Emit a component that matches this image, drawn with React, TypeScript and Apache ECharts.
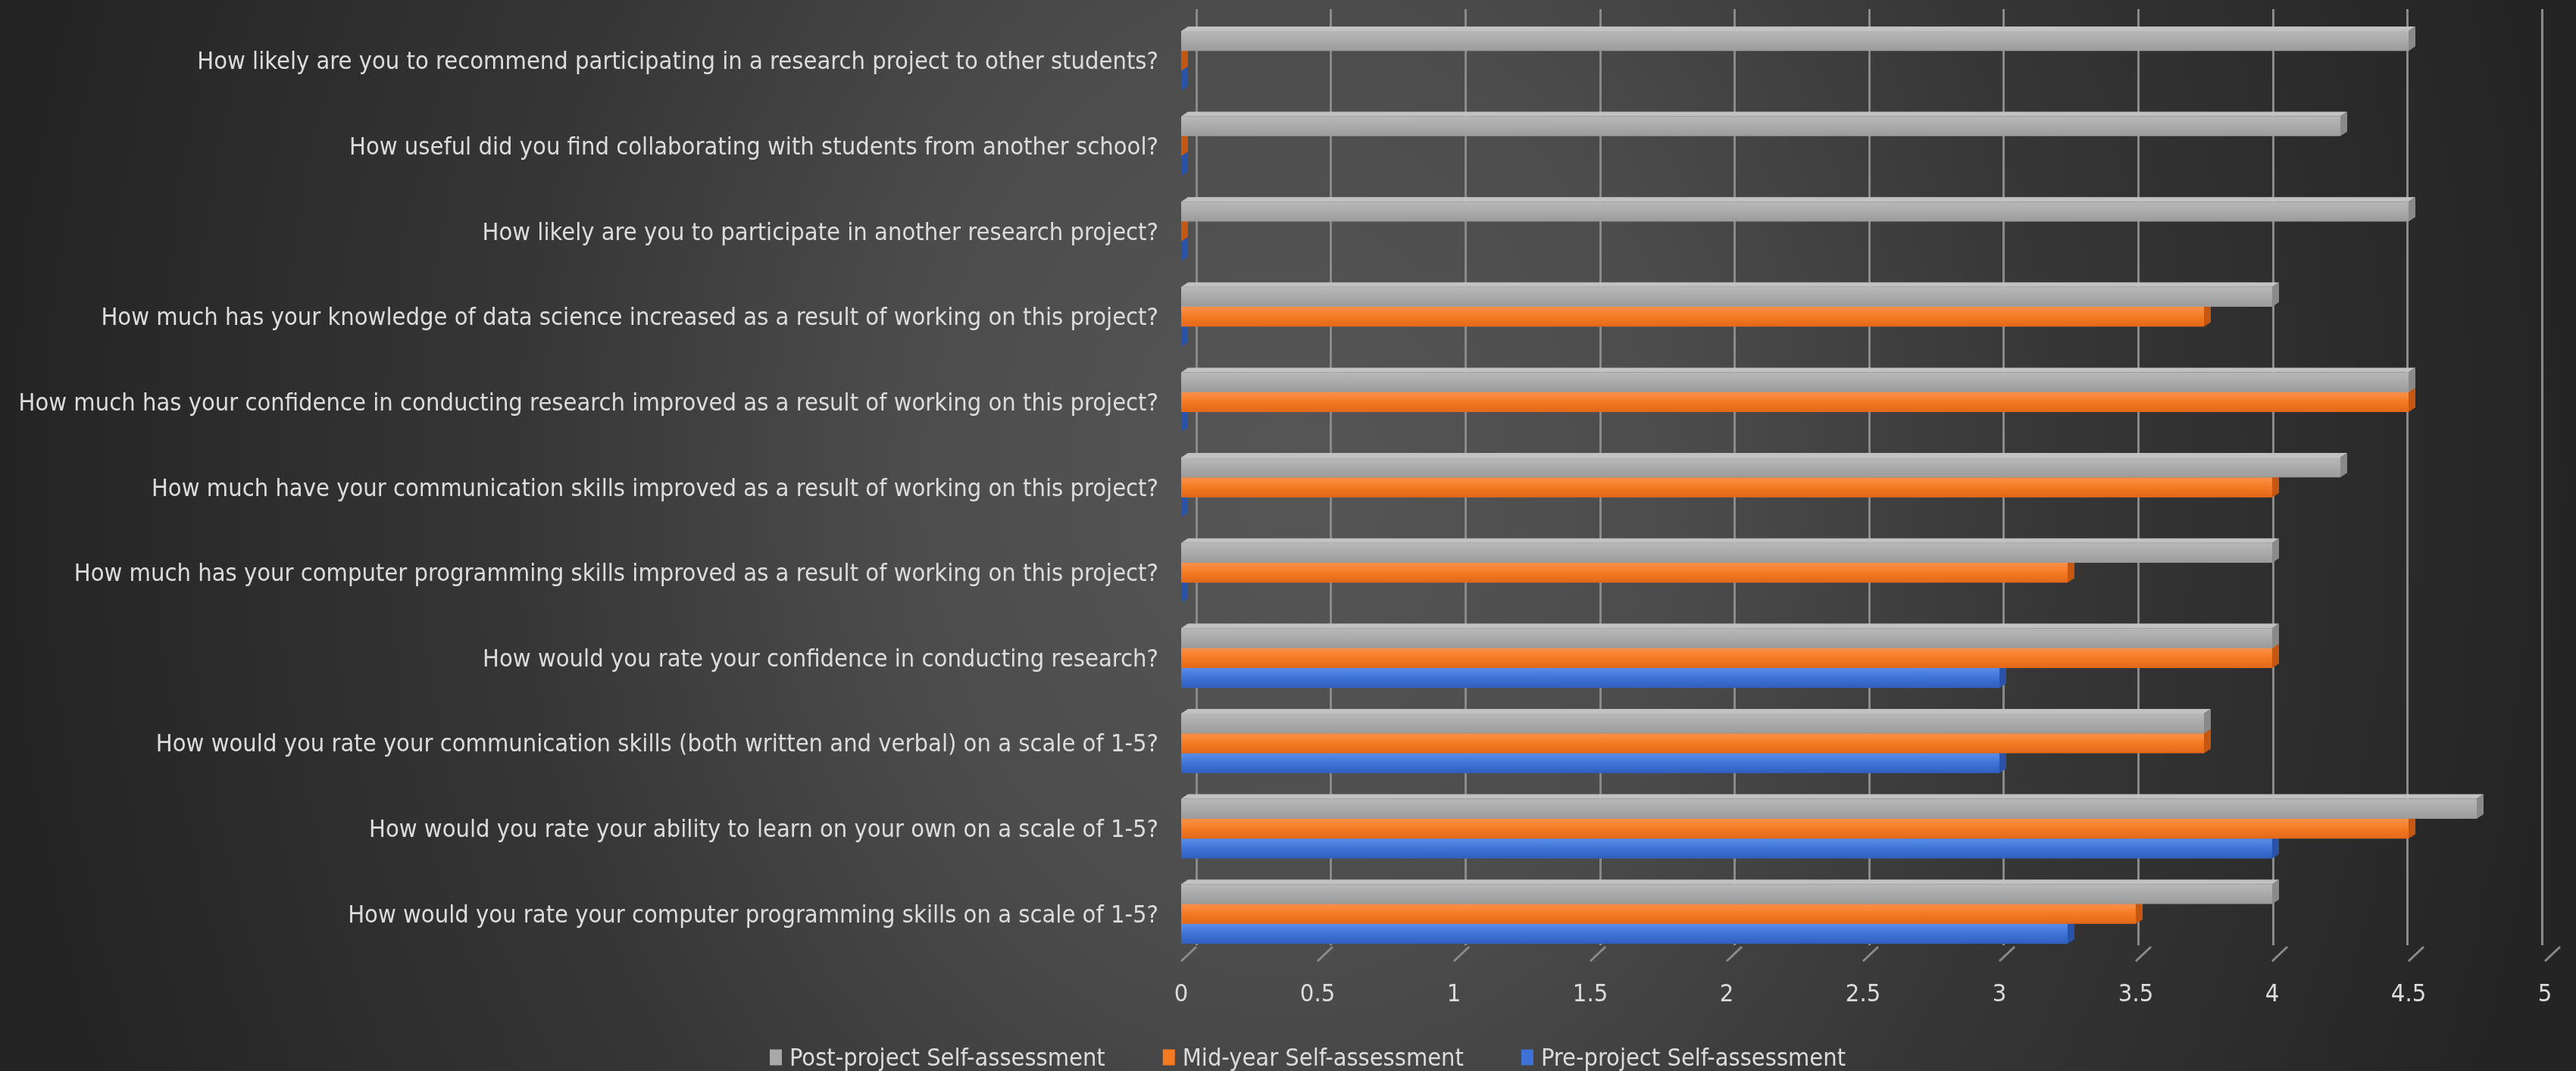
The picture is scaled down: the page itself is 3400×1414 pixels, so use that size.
import React, { useEffect, useRef } from "react";
import * as echarts from "echarts";

// Categories, bottom to top (ECharts category y axis runs upward)
const categories = [
  "How would you rate your computer programming skills on a scale of 1-5?",
  "How would you rate your ability to learn on your own on a scale of 1-5?",
  "How would you rate your communication skills (both written and verbal) on a scale of 1-5?",
  "How would you rate your confidence in conducting research?",
  "How much has your computer programming skills improved as a result of working on this project?",
  "How much have your communication skills improved as a result of working on this project?",
  "How much has your confidence in conducting research improved as a result of working on this project?",
  "How much has your knowledge of data science increased as a result of working on this project?",
  "How likely are you to participate in another research project?",
  "How useful did you find collaborating with students from another school?",
  "How likely are you to recommend participating in a research project to other students?",
];

const preProject = [3.25, 4, 3, 3, 0, 0, 0, 0, 0, 0, 0];
const midYear = [3.5, 4.5, 3.75, 4, 3.25, 4, 4.5, 3.75, 0, 0, 0];
const postProject = [4, 4.75, 3.75, 4, 4, 4.25, 4.5, 4, 4.5, 4.25, 4.5];

const seriesNames = [
  "Pre-project Self-assessment",
  "Mid-year Self-assessment",
  "Post-project Self-assessment",
];
const legendOrder = [
  "Post-project Self-assessment",
  "Mid-year Self-assessment",
  "Pre-project Self-assessment",
];
const xTicks = [0, 0.5, 1, 1.5, 2, 2.5, 3, 3.5, 4, 4.5, 5];

const palettes = [
  { legend: "#3f72d6", top: "#5a8eea", mid: "#3f72d6", bottom: "#2f5fbf", face: "#6f9ef2", side: "#2a53a8" },
  { legend: "#f47a22", top: "#fb914b", mid: "#f47a22", bottom: "#e2681a", face: "#ffa666", side: "#c45812" },
  { legend: "#a9a9a9", top: "#b8b8b8", mid: "#aaaaaa", bottom: "#9b9b9b", face: "#c2c2c2", side: "#8a8a8a" },
];

const DX = 9;
const DY = 6;
const FONT = "'Liberation Sans Narrow', 'DejaVu Sans Condensed', 'Open Sans', sans-serif";
const TEXT = "#dcdcdc";

function barRenderer(sIdx: number) {
  const p = palettes[sIdx];
  return (params: any, api: any) => {
    const v = api.value(0);
    const i = api.value(1);
    const base = api.coord([0, i]);
    const end = api.coord([v, i]);
    const band = api.size([0, 1])[1];
    const group = band * 0.7;
    const h = group / 3;
    const yTop = base[1] + group / 2 - (sIdx + 1) * h;
    const x0 = base[0];
    const x1 = end[0];
    return {
      type: "group",
      children: [
        {
          type: "polygon",
          shape: { points: [[x0, yTop], [x1, yTop], [x1 + DX, yTop - DY], [x0 + DX, yTop - DY]] },
          style: { fill: p.face },
        },
        {
          type: "rect",
          shape: { x: x0, y: yTop, width: x1 - x0, height: h },
          style: {
            fill: new echarts.graphic.LinearGradient(0, 0, 0, 1, [
              { offset: 0, color: p.top },
              { offset: 0.5, color: p.mid },
              { offset: 1, color: p.bottom },
            ]),
          },
        },
        {
          type: "polygon",
          shape: { points: [[x1, yTop], [x1 + DX, yTop - DY], [x1 + DX, yTop + h - DY], [x1, yTop + h]] },
          style: { fill: p.side },
        },
      ],
    };
  };
}

export default function App() {
  const ref = useRef<HTMLDivElement>(null);
  useEffect(() => {
    document.body.style.margin = "0";
    const chart = echarts.init(ref.current!, null, { renderer: "svg" });
    const seriesData = [preProject, midYear, postProject];
    const barSeries = seriesData.map((vals, s) => ({
      type: "custom",
      name: seriesNames[s],
      xAxisIndex: 1,
      yAxisIndex: 1,
      itemStyle: { color: palettes[s].legend },
      encode: { x: 0, y: 1 },
      data: vals.map((v, i) => [v, i]),
      renderItem: barRenderer(s),
      z: 3 + s,
    }));
    chart.setOption({
      animation: false,
      backgroundColor: "transparent",
      textStyle: { fontFamily: FONT },
      grid: [
        { left: 1579, width: 1776, top: 12, height: 1236, outerBoundsMode: "none", containLabel: false },
        { left: 1559, width: 1800, top: 24, height: 1239, outerBoundsMode: "none", containLabel: false },
      ],
      xAxis: [
        {
          gridIndex: 0,
          type: "value",
          min: 0,
          max: 5,
          interval: 0.5,
          axisLine: { show: false },
          axisTick: { show: false },
          axisLabel: { show: false },
          splitLine: { show: true, lineStyle: { color: "#8a8a8a", width: 3 } },
        },
        {
          gridIndex: 1,
          type: "value",
          min: 0,
          max: 5,
          interval: 0.5,
          axisLine: { show: false },
          axisTick: { show: false },
          splitLine: { show: false },
          axisLabel: { color: TEXT, fontSize: 32.4, margin: 32, fontFamily: FONT },
        },
      ],
      yAxis: [
        {
          gridIndex: 0,
          type: "category",
          data: categories,
          show: false,
        },
        {
          gridIndex: 1,
          type: "category",
          data: categories,
          axisLine: { show: false },
          axisTick: { show: false },
          splitLine: { show: false },
          axisLabel: {
            color: TEXT,
            fontSize: 32.4,
            margin: 30,
            fontFamily: FONT,
            padding: [34, 0, 0, 0],
          },
        },
      ],
      legend: {
        data: legendOrder,
        bottom: -3,
        left: 1011,
        icon: "rect",
        itemWidth: 16,
        itemHeight: 21,
        itemGap: 76,
        textStyle: { color: TEXT, fontSize: 32.3, fontFamily: FONT, padding: [0, 0, 0, 5] },
      },
      series: [
        {
          type: "custom",
          name: "floorTicks",
          xAxisIndex: 1,
          yAxisIndex: 1,
          silent: true,
          encode: { x: 0, y: 1 },
          data: xTicks.map((t) => [t, 0]),
          renderItem: (params: any, api: any) => {
            const x = api.coord([api.value(0), 0])[0];
            const bottom = params.coordSys.y + params.coordSys.height;
            return {
              type: "line",
              shape: { x1: x + 20, y1: bottom - 13, x2: x, y2: bottom + 6 },
              style: { stroke: "#8a8a8a", lineWidth: 3 },
            };
          },
          z: 1,
        },
        ...barSeries,
      ],
    });
    return () => chart.dispose();
  }, []);
  return (
    <div
      ref={ref}
      style={{
        position: "fixed",
        left: 0,
        top: 0,
        width: 3400,
        height: 1414,
        background:
          "radial-gradient(ellipse 50% 150% at 50% 45%, #565656 0%, #4c4c4c 30%, #363636 60%, #242424 100%)",
      }}
    />
  );
}
